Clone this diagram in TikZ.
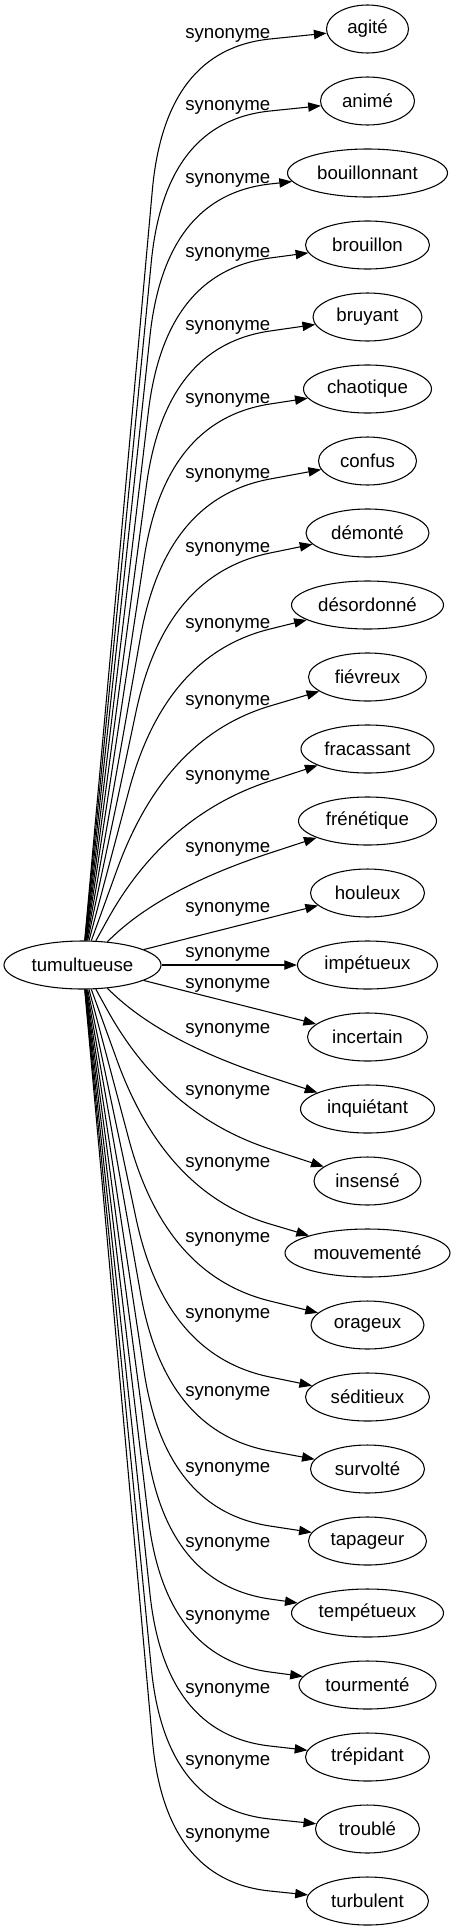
\documentclass[tikz,border=0pt]{standalone}
\usepackage{fontspec}
\setmainfont{Liberation Sans}
\usetikzlibrary{shapes.geometric,arrows.meta}
\tikzset{
  synnode/.style={draw, ellipse, line width=0.8pt, minimum height=36pt, inner sep=0pt, font=\fontsize{14pt}{17pt}\selectfont},
  synlab/.style={inner sep=0pt, anchor=base west, font=\fontsize{14pt}{17pt}\selectfont},
  synarrow/.style={line width=0.8pt, -{Triangle[length=9.5pt,width=7pt]}},
}
\newcommand\mysynedge[3]{%
  \pgfmathsetmacro\Yv{29+72*#1}%
  \pgfmathsetmacro\Qx{270}%
  \pgfmathsetmacro\Qy{\Yv+(#2)*(#3+1)}%
  \pgfmathsetmacro\Kx{165}%
  \pgfmathsetmacro\Ky{\Yv+(#2)*(#3+1)*(1+105/97.5)}%
  \pgfmathsetmacro\Lc{100*veclen((82.5-\Kx)/100,(965-\Ky)/100)}%
  \pgfmathsetmacro\dd{min(141,0.85*(\Lc-30))}%
  \pgfmathsetmacro\rr{\dd/\Lc}%
  \pgfmathsetmacro\Pax{\Kx+\rr*(82.5-\Kx)}%
  \pgfmathsetmacro\Pay{\Ky+\rr*(965-\Ky)}%
  \pgfmathsetmacro\Cax{\Pax+2/3*(\Kx-\Pax)}%
  \pgfmathsetmacro\Cay{\Pay+2/3*(\Ky-\Pay)}%
  \pgfmathsetmacro\Cbx{\Qx+2/3*(\Kx-\Qx)}%
  \pgfmathsetmacro\Cby{\Qy+2/3*(\Ky-\Qy)}%
  \draw[synarrow] (tum) -- (\Pax,\Pay) .. controls (\Cax,\Cay) and (\Cbx,\Cby) .. (\Qx,\Qy) -- (n#1);%
}
\begin{document}
\begin{tikzpicture}[x=0.75pt,y=-0.75pt]
\useasboundingbox (0,0) rectangle (455,1931);
\node[synnode, minimum width=117.75pt] (tum) at (82.5,965) {tumultueuse};
\foreach \i/\nm/\w in {0/agité/82, 1/animé/94, 2/bouillonnant/160, 3/brouillon/124, 4/bruyant/109,
  5/chaotique/128, 6/confus/98, 7/démonté/123, 8/désordonné/152, 9/fiévreux/118,
  10/fracassant/133, 11/frénétique/138, 12/houleux/114, 13/impétueux/140, 14/incertain/120,
  15/inquiétant/134, 16/insensé/107, 17/mouvementé/165, 18/orageux/113, 19/séditieux/124,
  20/survolté/114, 21/tapageur/118, 22/tempétueux/152, 23/tourmenté/137, 24/trépidant/124,
  25/troublé/104, 26/turbulent/122}
{
  \node[synnode, minimum width=\w*0.75pt] (n\i) at (367.5,{29+72*\i}) {\nm};
}
\foreach \i/\b in {0/38, 1/110, 2/183, 3/257, 4/330, 5/403, 6/478, 7/552, 8/628, 9/705,
  10/780, 11/852, 12/912, 13/957, 14/988, 15/1033, 16/1095, 17/1167, 18/1242, 19/1318,
  20/1396, 21/1472, 22/1547, 23/1620, 24/1693, 25/1765, 26/1838}
{
  \node[synlab] (l\i) at (185,\b) {synonyme};
}
\foreach \i/\bo in {0/9, 1/9, 2/10, 3/12, 4/13, 5/14, 6/17, 7/19, 8/23, 9/28, 10/31, 11/31}
{
  \mysynedge{\i}{1}{\bo}
}
\foreach \i/\bo in {26/9, 25/9, 24/10, 23/12, 22/13, 21/14, 20/17, 19/19, 18/23, 17/28, 16/31, 15/31}
{
  \mysynedge{\i}{-1}{\bo}
}
\draw[synarrow] (tum) -- (n12);
\draw[synarrow] (tum) -- (n13);
\draw[synarrow] (tum) -- (n14);
\end{tikzpicture}
\end{document}
